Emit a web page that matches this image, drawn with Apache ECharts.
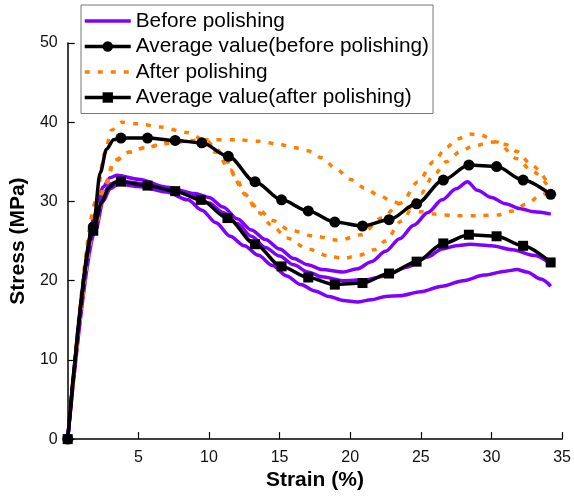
<!DOCTYPE html>
<html>
<head>
<meta charset="utf-8">
<script src="https://cdn.jsdelivr.net/npm/echarts@6/dist/echarts.min.js"></script>
<style>
  html, body { margin: 0; padding: 0; background: #fff; }
  #chart { width: 574px; height: 496px; }
</style>
</head>
<body>
<div id="chart"></div>
<script>
// stress-strain curves, [strain %, stress MPa]
const beforeA = [[0,0],[2,28.5],[2.5,31.8],[3,33],[3.5,33.3],[5,32.8],[7,31.8],[9,31],[10,30.5],[11,29.3],[12,27.8],[13,26.4],[14,25.2],[15,24],[16,22.8],[17,22],[18,21.4],[19.5,21.1],[20.5,21.5],[21.5,22.4],[22.5,23.7],[23.5,25.3],[24.5,27],[25.5,28.6],[26.5,30.2],[27.5,31.6],[28.3,32.5],[29,31.4],[30,30.5],[31,29.7],[32,29.1],[33,28.7],[34.2,28.4]];
const beforeB = [[0,0],[2,27.5],[2.5,30.8],[3,32.2],[3.6,32.6],[5,32.3],[7,31.6],[9,30.6],[10,29.8],[11,28.6],[12,27.2],[13,25.6],[14,24.2],[15,23.1],[16,22],[17,21.1],[18,20.5],[19.5,20],[21,20.1],[22.5,20.6],[24,21.7],[25.5,23],[26.5,24],[27.5,24.4],[28.5,24.6],[30,24.4],[31.5,23.9],[33,23.2],[34.2,22.1]];
const beforeC = [[0,0],[2,26.5],[2.5,30],[3,31.6],[3.6,32.2],[5,31.9],[7,31.2],[8.5,30.2],[9.5,28.9],[10.5,27.3],[11.5,25.6],[12.5,24.4],[13.5,23.2],[14.5,21.9],[15.5,20.6],[16.5,19.5],[17.5,18.7],[18.5,18],[19.5,17.5],[20.5,17.3],[21.5,17.6],[22.5,18],[23.5,18.1],[25,18.6],[26.5,19.3],[28,20],[29.5,20.7],[31,21.2],[31.8,21.4],[32.5,21.1],[33.5,20.2],[34.2,19.3]];

const afterA = [[0,0],[2,30],[2.6,36],[3.1,39],[3.8,40],[5,39.8],[6.6,39.4],[8.4,38.7],[9.8,37.7],[10.6,36.5],[11.2,35.2],[11.9,33],[12.6,30.8],[13.5,29],[14.5,27.6],[15.7,26.4],[17.5,25.6],[19.2,25.1],[20.8,25.8],[22.2,27.9],[23.6,29.8],[24.8,32.5],[25.9,35],[26.8,36.8],[27.6,37.9],[28.5,38.5],[29.2,38.4],[30.4,37.5],[31.8,35.4],[32.9,33.8],[34.1,31.7]];
const afterB = [[0,0],[2,28],[2.6,32],[3.3,35.2],[4.3,36.2],[5.5,36.8],[7,37.3],[8.5,37.6],[9.5,37.3],[10.5,36.2],[11.5,34],[12.5,31],[13.5,28.6],[14.5,26.9],[15.5,25.4],[17,24],[18.5,23.1],[19.5,22.8],[20.6,23.2],[21.7,23.9],[22.5,25],[23.6,27.5],[25,31],[25.9,33.3],[26.8,35],[27.8,36.3],[28.7,37],[30.1,37.5],[31,37.2],[31.8,36.3],[32.9,34.5],[34.1,32]];
const afterC = [[0,0],[2,27],[2.6,31.5],[3.3,35],[4.3,36.2],[5.5,36.8],[7,37.4],[8.5,37.7],[10,37.8],[12,37.8],[13.5,37.6],[15,37.2],[16,36.8],[17,36.4],[18,35.5],[19,34.1],[20,32.8],[21,31.7],[22,30.8],[23,30],[24,29.3],[25,28.7],[26,28.4],[27.5,28.2],[29,28.2],[30.5,28.3],[31.5,28.8],[32.5,29.7],[33.5,30.8],[34.2,31.5]];

// averages: marker points + a few unmarked points for the knee
const avgBefore = [[0,0],[1.81,26.8],[3.77,38],[5.65,38],[7.61,37.7],[9.49,37.4],[11.37,35.7],[13.26,32.5],[15.14,30.2],[17.03,28.8],[18.91,27.4],[20.87,26.9],[22.75,27.7],[24.7,29.7],[26.59,32.7],[28.4,34.6],[30.36,34.4],[32.24,32.7],[34.19,30.9]];
const avgBeforeKnee = [[2.3,33.6],[2.75,36.6],[3.25,37.8]];
const avgAfter = [[0,0],[1.81,26.3],[3.77,32.5],[5.65,32],[7.61,31.3],[9.42,30.2],[11.31,27.9],[13.26,24.6],[15.14,21.8],[17.03,20.4],[18.91,19.5],[20.87,19.7],[22.75,20.9],[24.7,22.4],[26.59,24.7],[28.4,25.8],[30.36,25.6],[32.24,24.4],[34.19,22.3]];
const avgAfterKnee = [[2.4,29.9],[2.9,31.7],[3.35,32.4]];

const xTicks = [0, 35, 5];   // min, max, interval
const yTicks = [0, 50, 10];

const purple = "#8000ff";
const orange = "#ff8000";
const font = "Liberation Sans, Arial, sans-serif";

// merge marker points with knee points, knee ones drawn without a symbol
function withKnee(points, knee) {
  const all = points.map(p => ({ value: p }))
    .concat(knee.map(p => ({ value: p, symbol: "none" })));
  all.sort((a, b) => a.value[0] - b.value[0]);
  return all;
}

function specimen(name, data, color, dashed) {
  return {
    name: name,
    type: "line",
    smooth: 0.3,
    smoothMonotone: "x",
    showSymbol: false,
    symbol: "none",
    data: data,
    lineStyle: { color: color, width: 3.5, type: dashed ? [5, 8] : "solid" },
    itemStyle: { color: color },
    z: 2
  };
}

function average(name, data, symbol) {
  return {
    name: name,
    type: "line",
    smooth: 0.3,
    smoothMonotone: "x",
    symbol: symbol,
    symbolSize: symbol === "rect" ? 10 : 11,
    data: data,
    lineStyle: { color: "#000", width: 3.5 },
    itemStyle: { color: "#000" },
    z: 4
  };
}

const myChart = echarts.init(document.getElementById("chart"));
const axisFont = { fontFamily: font, fontSize: 16, color: "#111" };

const option = {
  animation: false,
  grid: { left: 62, right: 10.5, top: 43, bottom: 52, containLabel: false },
  legend: {
    left: 81,
    top: 5,
    orient: "vertical",
    data: [
      // plain line icons for the single specimens
      { name: "Before polishing", itemStyle: { opacity: 0 } },
      "Average value(before polishing)",
      { name: "After polishing", itemStyle: { opacity: 0 } },
      "Average value(after polishing)"
    ],
    itemWidth: 46,
    itemHeight: 13,
    itemGap: 3.5,
    itemTextGap: 8,
    padding: [5, 4, 5, 2],
    borderColor: "#777",
    borderWidth: 1,
    backgroundColor: "#fff",
    lineStyle: { width: 3.5 },
    textStyle: { fontFamily: font, fontSize: 20.8, color: "#000", lineHeight: 22 }
  },
  xAxis: {
    type: "value",
    min: xTicks[0],
    max: xTicks[1],
    interval: xTicks[2],
    name: "Strain (%)",
    nameLocation: "middle",
    nameGap: 28,
    nameTextStyle: { fontFamily: font, fontSize: 21, fontWeight: "bold", color: "#000" },
    axisLine: { lineStyle: { color: "#000", width: 1.5 } },
    axisTick: { inside: true, length: 7, lineStyle: { color: "#000", width: 1.2 } },
    axisLabel: Object.assign({ showMinLabel: false, margin: 10 }, axisFont),
    splitLine: { show: false }
  },
  yAxis: {
    type: "value",
    min: yTicks[0],
    max: yTicks[1],
    interval: yTicks[2],
    name: "Stress (MPa)",
    nameLocation: "middle",
    nameGap: 30,
    nameTextStyle: { fontFamily: font, fontSize: 21, fontWeight: "bold", color: "#000" },
    axisLine: { show: true, lineStyle: { color: "#000", width: 1.5 } },
    axisTick: { show: true, inside: true, length: 7, lineStyle: { color: "#000", width: 1.2 } },
    axisLabel: Object.assign({ margin: 10 }, axisFont),
    splitLine: { show: false }
  },
  series: [
    specimen("Before polishing", beforeA, purple, false),
    specimen("Before polishing", beforeB, purple, false),
    specimen("Before polishing", beforeC, purple, false),
    specimen("After polishing", afterA, orange, true),
    specimen("After polishing", afterB, orange, true),
    specimen("After polishing", afterC, orange, true),
    average("Average value(before polishing)", withKnee(avgBefore, avgBeforeKnee), "circle"),
    average("Average value(after polishing)", withKnee(avgAfter, avgAfterKnee), "rect")
  ]
};
myChart.setOption(option);
</script>
</body>
</html>
